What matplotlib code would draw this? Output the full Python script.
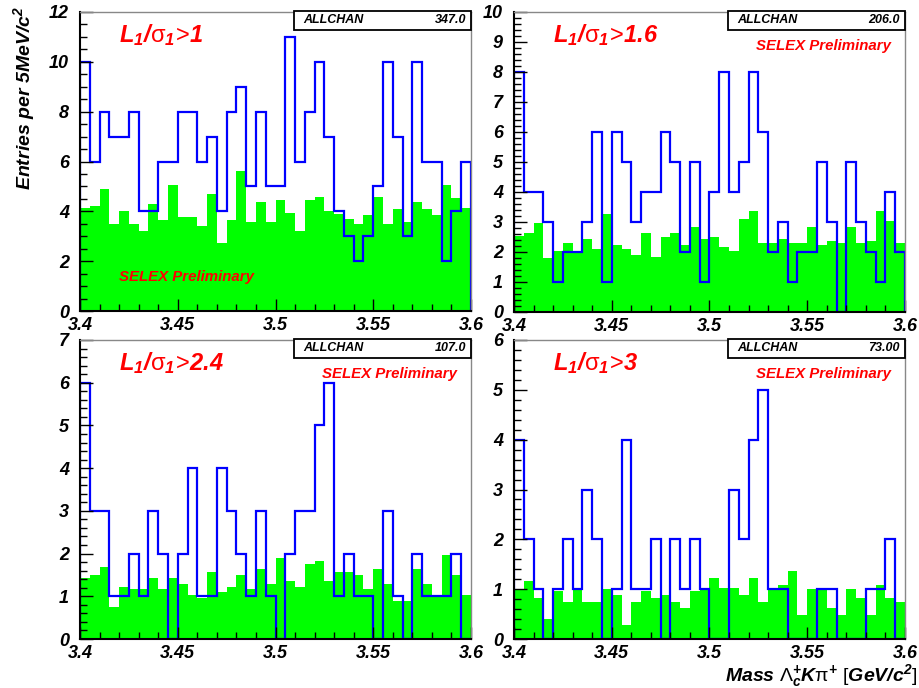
import numpy as np
import matplotlib
matplotlib.use('Agg')
import matplotlib.pyplot as plt
from matplotlib.patches import Rectangle
from matplotlib.ticker import MultipleLocator

plt.rcParams['font.family'] = ['Liberation Sans', 'DejaVu Sans']
plt.rcParams['font.weight'] = 'bold'
plt.rcParams['font.style'] = 'italic'
plt.rcParams['mathtext.fontset'] = 'custom'
plt.rcParams['mathtext.rm'] = 'Liberation Sans:style=normal:weight=normal'
plt.rcParams['mathtext.it'] = 'Liberation Sans:style=italic:weight=normal'
plt.rcParams['mathtext.bf'] = 'Liberation Sans:style=italic:weight=bold'

# 40 bins of 5 MeV between 3.4 and 3.6 GeV
edges = np.linspace(3.4, 3.6, 41)

# L1/sigma1 > 1
sig1 = [10, 6, 8, 7, 7, 8, 4, 4, 6, 6, 8, 8, 6, 7, 4, 8, 9, 5, 8, 5,
        5, 11, 6, 8, 10, 7, 4, 3, 2, 3, 5, 10, 7, 3, 10, 6, 6, 2, 4, 6]
bkg1 = [4.12, 4.21, 4.88, 3.48, 4.01, 3.48, 3.21, 4.29, 3.64, 5.04,
        3.77, 3.77, 3.41, 4.68, 2.74, 3.64, 5.61, 3.56, 4.39, 3.56,
        4.45, 3.93, 3.21, 4.45, 4.59, 4.01, 3.88, 3.70, 3.48, 3.85,
        4.59, 3.48, 4.08, 3.56, 4.39, 4.08, 3.85, 5.04, 4.52, 4.14]

# L1/sigma1 > 1.6
sig2 = [8, 4, 4, 3, 1, 2, 2, 3, 6, 1, 6, 5, 3, 4, 4, 6, 5, 2, 5, 1,
        4, 8, 4, 5, 8, 6, 2, 3, 1, 2, 2, 5, 3, 0, 5, 3, 2, 1, 4, 2]
bkg2 = [2.52, 2.64, 2.98, 1.80, 2.04, 2.31, 2.04, 2.44, 2.11, 3.26,
        2.24, 2.11, 1.91, 2.64, 1.84, 2.51, 2.64, 2.24, 2.84, 2.44,
        2.51, 2.18, 2.04, 3.11, 3.38, 2.31, 2.31, 2.44, 2.31, 2.31,
        2.84, 2.24, 2.38, 2.31, 2.84, 2.31, 2.38, 3.38, 3.04, 2.31]

# L1/sigma1 > 2.4
sig3 = [6, 3, 3, 1, 1, 2, 1, 3, 2, 0, 2, 4, 1, 1, 4, 3, 2, 1, 3, 1,
        0, 2, 3, 3, 5, 6, 1, 2, 1, 1, 0, 3, 1, 0, 2, 1, 1, 1, 2, 0]
bkg3 = [1.42, 1.50, 1.69, 0.76, 1.22, 1.16, 1.16, 1.42, 1.16, 1.42,
        1.29, 1.02, 0.96, 1.56, 1.09, 1.22, 1.50, 1.16, 1.63, 1.29,
        1.90, 1.36, 1.22, 1.76, 1.83, 1.36, 1.56, 1.56, 1.50, 1.16,
        1.63, 1.29, 0.89, 0.89, 1.63, 1.29, 1.02, 1.96, 1.50, 1.02]

# L1/sigma1 > 3
sig4 = [4, 2, 1, 0, 1, 2, 1, 3, 2, 0, 1, 4, 1, 1, 2, 0, 2, 1, 2, 1,
        0, 0, 3, 2, 4, 5, 1, 1, 0, 0, 0, 1, 1, 0, 0, 0, 1, 1, 2, 0]
bkg4 = [1.00, 1.16, 0.82, 0.41, 0.96, 0.75, 0.98, 0.75, 0.75, 1.00,
        0.89, 0.29, 0.75, 0.96, 0.82, 0.89, 0.75, 0.62, 0.96, 1.00,
        1.22, 1.02, 1.02, 0.89, 1.22, 0.75, 1.00, 1.09, 1.36, 0.49,
        1.00, 1.00, 0.62, 0.49, 1.00, 0.82, 0.49, 1.09, 0.82, 0.75]

cuts = ['1', '1.6', '2.4', '3']
entries = ['347.0', '206.0', '107.0', '73.00']
ymax = [12, 10, 7, 6]
ymajor = [2, 1, 1, 1]
yminor = [0.5, 0.2, 0.2, 0.2]
signals = [sig1, sig2, sig3, sig4]
backgrounds = [bkg1, bkg2, bkg3, bkg4]

fig = plt.figure(figsize=(9.19, 6.88), dpi=100)
W, H = 919.0, 688.0
boxes = [(80, 12, 471, 311), (514, 12, 905, 312),
         (80, 340, 471, 639), (514, 340, 905, 639)]

for i in range(4):
    x0, y0, x1, y1 = boxes[i]
    ax = fig.add_axes([x0 / W, 1 - y1 / H, (x1 - x0) / W, (y1 - y0) / H])
    ax.bar(edges[:-1], backgrounds[i], width=np.diff(edges), align='edge',
           color='#00ff00', linewidth=0)
    ax.stairs(signals[i], edges, color='#0000ff', linewidth=1.6, baseline=0)
    ax.set_xlim(3.4, 3.6)
    ax.set_ylim(0, ymax[i])
    ax.xaxis.set_minor_locator(MultipleLocator(0.01))
    ax.yaxis.set_major_locator(MultipleLocator(ymajor[i]))
    ax.yaxis.set_minor_locator(MultipleLocator(yminor[i]))
    ax.set_xticks([3.4, 3.45, 3.5, 3.55, 3.6])
    ax.set_xticklabels(['3.4', '3.45', '3.5', '3.55', '3.6'])
    ax.tick_params(which='both', direction='in', top=False, right=False,
                   labelsize=13, width=1)
    ax.tick_params(which='major', length=9)
    ax.tick_params(which='minor', length=5)
    ax.tick_params(axis='x', pad=4)
    ax.tick_params(axis='y', pad=8)
    for s in ['left', 'bottom']:
        ax.spines[s].set_linewidth(1.5)
        ax.spines[s].set_color('black')
    for s in ['top', 'right']:
        ax.spines[s].set_linewidth(1)
        ax.spines[s].set_color('#888888')
    ax.spines['bottom'].set_zorder(5)

    # stats box
    ax.add_patch(Rectangle((0.548, 0.94), 0.452, 0.063, transform=ax.transAxes,
                           facecolor='white', edgecolor='black', linewidth=1.3,
                           clip_on=False, zorder=6))
    ax.text(0.57, 0.972, 'ALLCHAN', transform=ax.transAxes, fontsize=9,
            ha='left', va='center', zorder=7)
    ax.text(0.987, 0.972, entries[i], transform=ax.transAxes, fontsize=9,
            ha='right', va='center', zorder=7)

    title = (r'$\mathbf{L}_{\mathbf{1}}\mathbf{/}\mathrm{\sigma}_{\mathbf{1}}'
             r'\!\mathrm{>}\!\mathbf{' + cuts[i] + '}$')
    ax.text(0.10, 0.90, title, transform=ax.transAxes, fontsize=17,
            color='#ff0000', ha='left', va='baseline')

    if i == 0:
        ax.text(0.10, 0.114, 'SELEX Preliminary', transform=ax.transAxes,
                fontsize=10.8, color='#ff0000', ha='left', va='center')
    else:
        ax.text(0.62, 0.887, 'SELEX Preliminary', transform=ax.transAxes,
                fontsize=10.8, color='#ff0000', ha='left', va='center')

fig.text(24 / W, 1 - 6 / H, r'Entries per 5MeV/c$^{\mathbf{2}}$', rotation=90,
         fontsize=14, ha='center', va='top')
fig.text(917 / W, 1 - 676 / H,
         r'$\mathbf{Mass}\ \mathrm{\Lambda}_{\mathbf{c}}^{\mathbf{+}}\mathbf{K}'
         r'\mathrm{\pi}^{\mathbf{+}}\ \mathrm{[}\mathbf{GeV/c}^{\mathbf{2}}\mathrm{]}$',
         fontsize=14, ha='right', va='center')

fig.savefig('out.png', dpi=100)
